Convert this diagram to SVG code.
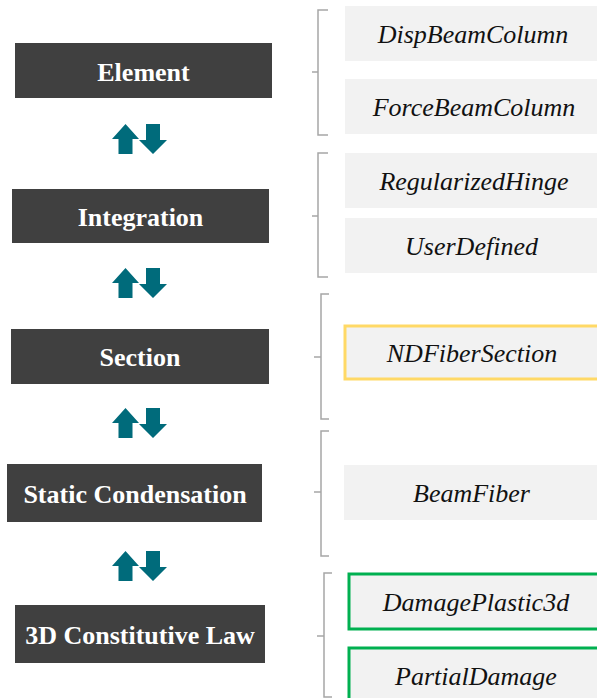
<svg xmlns="http://www.w3.org/2000/svg" width="597" height="698" viewBox="0 0 597 698">
  <style>
    .lvl rect { fill: #404040; }
    .lvl text { font-family: 'Liberation Serif', 'Times New Roman', serif; font-weight: bold; font-size: 26px; fill: #ffffff; text-anchor: middle; }
    .opt rect { fill: #f2f2f2; }
    .opt text { font-family: 'Liberation Serif', 'Times New Roman', serif; font-style: italic; font-size: 26px; fill: #111111; text-anchor: middle; }
    .opt.yellow rect { stroke: #ffd966; stroke-width: 3; }
    .opt.green rect { stroke: #00b050; stroke-width: 3; }
    .brace { fill: none; stroke: #a6a6a6; stroke-width: 1.5; }
    .updown { fill: #006b7b; }
  </style>
  <defs>
    <g id="updown-pair">
      <path class="updown" d="M125.5,0 L139,15 L132.5,15 L132.5,30 L118.5,30 L118.5,15 L112,15 Z"/>
      <path class="updown" d="M146,0 L160,0 L160,16 L167,16 L153,30 L139,16 L146,16 Z"/>
    </g>
  </defs>

  <rect width="597" height="698" fill="#ffffff"/>

  <!-- level nodes -->
  <g id="element" class="lvl">
    <rect x="15" y="43" width="257" height="55"/>
    <text x="143.5" y="81">Element</text>
  </g>
  <g id="integration" class="lvl">
    <rect x="12" y="189" width="257" height="54"/>
    <text x="140.5" y="226">Integration</text>
  </g>
  <g id="section" class="lvl">
    <rect x="11" y="329" width="258" height="55"/>
    <text x="140" y="366">Section</text>
  </g>
  <g id="static-condensation" class="lvl">
    <rect x="7" y="464" width="255" height="58"/>
    <text x="135" y="503">Static Condensation</text>
  </g>
  <g id="constitutive-law" class="lvl">
    <rect x="15" y="605" width="250" height="58"/>
    <text x="140" y="644">3D Constitutive Law</text>
  </g>

  <!-- options -->
  <g id="disp-beam-column" class="opt">
    <rect x="345" y="6" width="260" height="55"/>
    <text x="473" y="43">DispBeamColumn</text>
  </g>
  <g id="force-beam-column" class="opt">
    <rect x="345" y="79" width="260" height="55"/>
    <text x="474" y="116">ForceBeamColumn</text>
  </g>
  <g id="regularized-hinge" class="opt">
    <rect x="345" y="153" width="260" height="55"/>
    <text x="474" y="190">RegularizedHinge</text>
  </g>
  <g id="user-defined" class="opt">
    <rect x="345" y="218" width="260" height="55"/>
    <text x="471.5" y="255">UserDefined</text>
  </g>
  <g id="nd-fiber-section" class="opt yellow">
    <rect x="345" y="326" width="260" height="53"/>
    <text x="472" y="362">NDFiberSection</text>
  </g>
  <g id="beam-fiber" class="opt">
    <rect x="344" y="465" width="261" height="55"/>
    <text x="471.5" y="502">BeamFiber</text>
  </g>
  <g id="damage-plastic-3d" class="opt green">
    <rect x="349" y="574" width="256" height="55"/>
    <text x="476" y="611">DamagePlastic3d</text>
  </g>
  <g id="partial-damage" class="opt green">
    <rect x="349" y="648" width="256" height="60"/>
    <text x="476" y="685">PartialDamage</text>
  </g>

  <!-- connectors: braces and up/down arrows -->
  <g id="connectors">
    <path class="brace" d="M328,10 L318,10 L318,135 L328,135 M318,72 L312,72"/>
    <path class="brace" d="M328,153 L318,153 L318,277 L328,277 M318,216 L312,216"/>
    <path class="brace" d="M329,294 L321,294 L321,419 L329,419 M321,357 L314,357"/>
    <path class="brace" d="M329,431 L321,431 L321,556 L329,556 M321,492 L314,492"/>
    <path class="brace" d="M332,573 L324,573 L324,697 L332,697 M324,636 L317,636"/>

    <use href="#updown-pair" transform="translate(0,124)"/>
    <use href="#updown-pair" transform="translate(0,268)"/>
    <use href="#updown-pair" transform="translate(0,408)"/>
    <use href="#updown-pair" transform="translate(0,551)"/>
  </g>
</svg>
